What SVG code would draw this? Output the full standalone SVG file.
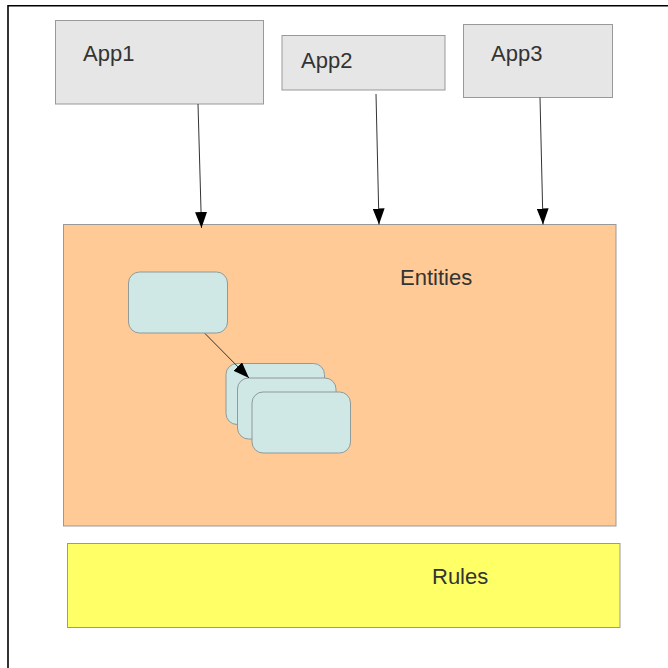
<svg xmlns="http://www.w3.org/2000/svg" width="668" height="668" viewBox="0 0 668 668">
<style>
.app{fill:#e6e6e6;stroke:#999;stroke-width:1}
.lbl{font-family:"Liberation Sans",Arial,sans-serif;font-size:22px;fill:#333}
.ent{fill:#ffca96;stroke:#999;stroke-width:1}
.rul{fill:#ffff66;stroke:#999;stroke-width:1}
.obj{fill:#cfe7e5;stroke:#8f9a99;stroke-width:1}
.con{stroke:#333;stroke-width:1;fill:none;marker-end:url(#ah)}
</style>
<defs>
<marker id="ah" viewBox="0 0 16 12" refX="16" refY="6" markerWidth="16" markerHeight="12" markerUnits="userSpaceOnUse" orient="auto">
<path d="M0,0 L16,6 L0,12 Z" fill="#000"/>
</marker>
</defs>
<rect width="668" height="668" fill="#fff"/>
<path d="M8,668 V5.8 H668" fill="none" stroke="#000" stroke-width="1.6"/>
<g id="app1"><rect class="app" x="55.5" y="20.5" width="208" height="83.5"/><text class="lbl" x="83" y="61">App1</text></g>
<g id="app2"><rect class="app" x="282" y="35.5" width="163" height="54.5"/><text class="lbl" x="301" y="68">App2</text></g>
<g id="app3"><rect class="app" x="463.5" y="24.5" width="149" height="73"/><text class="lbl" x="491" y="61">App3</text></g>
<g id="entities"><rect class="ent" x="63.5" y="224.5" width="552.5" height="301.5"/><text class="lbl" x="400" y="285">Entities</text></g>
<g id="rules"><rect class="rul" x="67.5" y="543.5" width="552.5" height="84"/><text class="lbl" x="432" y="584">Rules</text></g>
<g id="entity"><rect class="obj" x="128.5" y="272" width="99" height="61" rx="11"/></g>
<g id="entity-set">
<rect class="obj" x="226" y="363.5" width="98.5" height="61" rx="11"/>
<rect class="obj" x="237.5" y="378" width="98.5" height="61" rx="11"/>
<rect class="obj" x="252" y="392" width="98.5" height="61" rx="11"/>
</g>
<g id="connectors">
<line class="con" x1="198" y1="104" x2="201.5" y2="228"/>
<line class="con" x1="376" y1="94" x2="379" y2="224.5"/>
<line class="con" x1="540" y1="97.5" x2="543" y2="224.5"/>
<line class="con" x1="205" y1="333.5" x2="249" y2="378"/>
</g>
</svg>
